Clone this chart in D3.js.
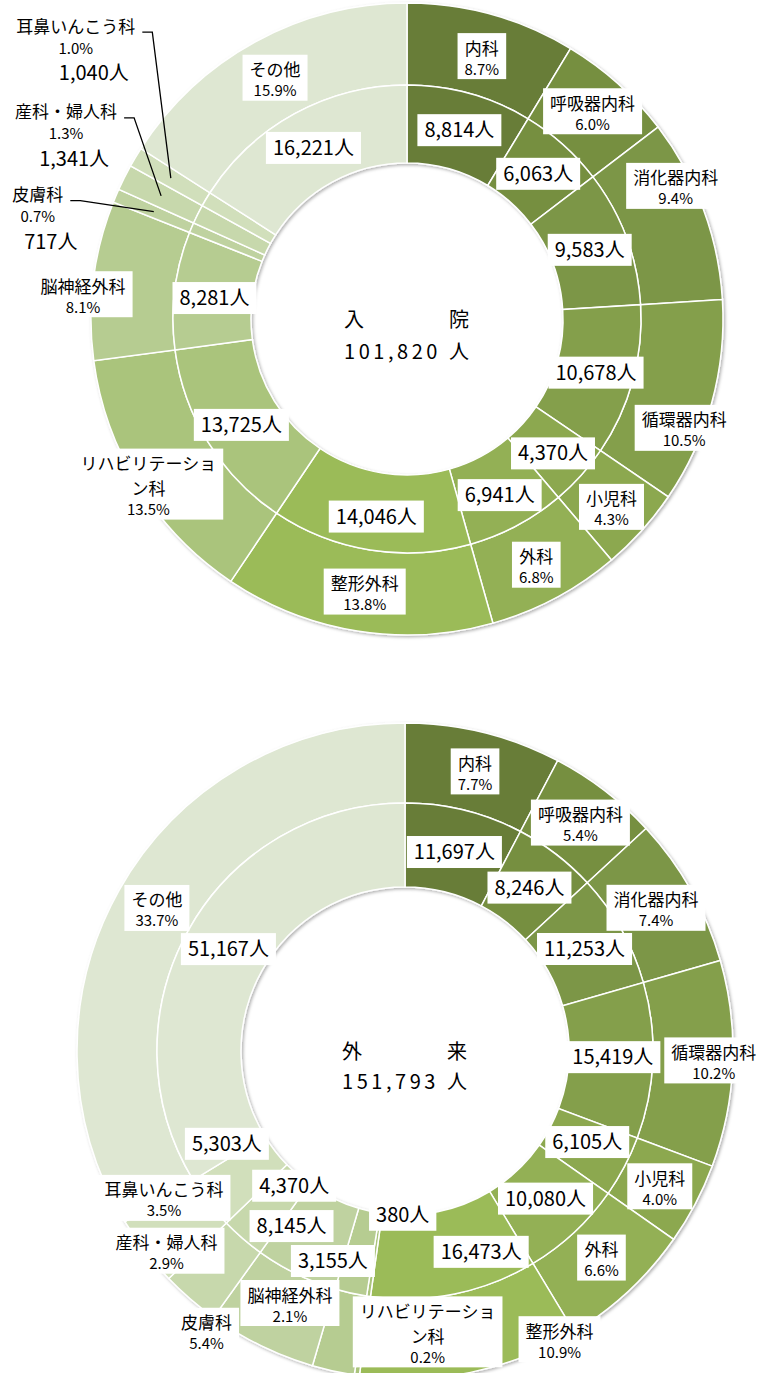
<!DOCTYPE html>
<html><head><meta charset="utf-8">
<script src="https://cdn.jsdelivr.net/npm/d3@7"></script>
<style>
html,body{margin:0;padding:0;background:#fff;}
svg{display:block;}
text{font-family:"Noto Sans CJK JP","Noto Sans",sans-serif;fill:#000;}
</style></head><body>
<svg id="c" width="766" height="1373"></svg>
<script>
// ---- data ----
const departments = ["内科","呼吸器内科","消化器内科","循環器内科","小児科","外科","整形外科","リハビリテーション科","脳神経外科","皮膚科","産科・婦人科","耳鼻いんこう科","その他"];
const inpatientCounts = [8814,6063,9583,10678,4370,6941,14046,13725,8281,717,1341,1040,16221];
const inpatientPct = ["8.7%","6.0%","9.4%","10.5%","4.3%","6.8%","13.8%","13.5%","8.1%","0.7%","1.3%","1.0%","15.9%"];
const outpatientCounts = [11697,8246,11253,15419,6105,10080,16473,380,3155,8145,4370,5303,51167];
const outpatientPct = ["7.7%","5.4%","7.4%","10.2%","4.0%","6.6%","10.9%","0.2%","2.1%","5.4%","2.9%","3.5%","33.7%"];
const inpatientTitle = "入　院";
const outpatientTitle = "外　来";
const unit = "人";

// ---- styles / layout ----
const colors = ["#677D39","#768F41","#7C9646","#849F4B","#8CA850","#93B055","#9BBB59","#AAC47B","#B6CC91","#BFD2A0","#C7D8AC","#D1DFBB","#DEE7D2"];
// label offsets (px) from the arc centroids; null = label shown outside with leader
const inOuterOff = [[1,2],[2,-3],[11,-37],[12,36],[0,4],[0,3],[1,1],[-25,20],[-51,9],null,null,null,[0,0]];
const inInnerOff = [[0,-1],[1,0],[0,-1],[1,2],[1,4],[1,4],[0,5],[0,3],[1,3],null,null,null,[0,0]];
const inOutside = {9:{off:[-116,-17],cdx:13},10:{off:[-95,-84],cdx:8},11:{off:[-95,-152],cdx:18}};
const outOuterOff = [[1,0],[0,0],[0,-2],[21,-2],[0,1],[0,-4],[97,6],[65,-4],[-52,-29],[-72,21],[-50,-18],[-13,-29],[3,-2]];
const outInnerOff = [[0,1],[-1,0],[0,-1],[2,-2],[0,-5],[0,-3],[35,-1],[28,-40],[-27,9],[-23,-10],[24,-21],[-15,-33],[3,-1]];

const svg = d3.select("#c");
const defs = svg.append("defs");
defs.append("filter").attr("id","sh").attr("x","-10%").attr("y","-10%").attr("width","120%").attr("height","120%")
  .append("feDropShadow").attr("dx",1.5).attr("dy",1.5).attr("stdDeviation",1.5)
  .attr("flood-color","#000").attr("flood-opacity",0.3);

const fmt = d3.format(",");
const LINE = 25;

function wrapName(s){ return s.length > 8 ? [s.slice(0,8), s.slice(8)] : [s]; }

function nameLabel(parent, bx, by, lines, pct){
  const lg = parent.append("g");
  const rect = lg.append("rect").attr("fill","#fff");
  const n = lines.length;
  const y0 = by - 8 - (LINE/2)*(n-1);
  const nt = lg.append("text").attr("text-anchor","middle");
  const spans = lines.map((t,k)=> nt.append("tspan").attr("x",bx).attr("y",y0 + k*LINE + 6.5)
    .style("font-size","17px").text(t));
  const py = y0 + (n-1)*LINE + 21;
  spans.push(nt.append("tspan").attr("x",bx).attr("y",py + 5.5).style("font-size","15px").text(pct));
  const w = d3.max(spans, s=>s.node().getComputedTextLength());
  rect.attr("x",bx - w/2 - 7).attr("y",y0 - 15).attr("width",w + 14).attr("height",py + 10 - (y0 - 15));
}

function countLabel(parent, x, y, t){
  const lg = parent.append("g");
  const rect = lg.append("rect").attr("fill","#fff");
  const tx = lg.append("text").attr("x",x).attr("y",y + 7).attr("text-anchor","middle")
    .style("font-size","20px").text(t);
  const w = tx.node().getComputedTextLength();
  rect.attr("x",x - w/2 - 7).attr("y",y - 16).attr("width",w + 14).attr("height",32);
}

function drawChart(cfg){
  const g = svg.append("g").attr("transform",`translate(${cfg.cx},${cfg.cy})`);
  const arcs = d3.pie().sort(null).value(d=>d)(cfg.counts);
  const innerArc = d3.arc().innerRadius(cfg.r0).outerRadius(cfg.r1);
  const outerArc = d3.arc().innerRadius(cfg.r1).outerRadius(cfg.r2);
  const ring = g.append("g").attr("filter","url(#sh)");
  ring.selectAll("path.o").data(arcs).join("path").attr("class","o")
    .attr("d",outerArc).attr("fill",(d,i)=>colors[i]).attr("stroke","#fff").attr("stroke-width",1.5);
  ring.selectAll("path.i").data(arcs).join("path").attr("class","i")
    .attr("d",innerArc).attr("fill",(d,i)=>colors[i]).attr("stroke","#fff").attr("stroke-width",1.5);

  // center text
  const total = d3.sum(cfg.counts);
  g.append("text").attr("x",-63).attr("y",8).attr("textLength",125).attr("lengthAdjust","spacing")
    .style("font-size","20px").text(cfg.title);
  g.append("text").attr("x",-63).attr("y",cfg.numY).attr("textLength",125).attr("lengthAdjust","spacing")
    .style("font-size","20px").text(fmt(total) + " " + unit);

  const lab = g.append("g");
  // inner (count) labels
  arcs.forEach((a,i)=>{
    const off = cfg.innerOff[i];
    if(!off) return;
    const c = innerArc.centroid(a);
    countLabel(lab, c[0] + off[0], c[1] + off[1], fmt(cfg.counts[i]) + unit);
  });
  // outer (name / pct) labels
  arcs.forEach((a,i)=>{
    const off = cfg.outerOff[i];
    const c = outerArc.centroid(a);
    if(off){
      nameLabel(lab, c[0] + off[0], c[1] + off[1], wrapName(departments[i]), cfg.pct[i]);
    } else if(cfg.outside && cfg.outside[i]){
      const o = cfg.outside[i];
      const nx = c[0] + o.off[0], ny = c[1] + o.off[1];
      const t = lab.append("text").attr("text-anchor","middle");
      const nt = t.append("tspan").attr("x",nx).attr("y",ny + 6.5).style("font-size","17px").text(departments[i]);
      t.append("tspan").attr("x",nx).attr("y",ny + 22 + 5.5).style("font-size","15px").text(cfg.pct[i]);
      t.append("tspan").attr("x",nx + o.cdx).attr("y",ny + 47 + 7).style("font-size","20px")
        .text(fmt(cfg.counts[i]) + unit);
      const w = nt.node().getComputedTextLength();
      const sx = nx + w/2 + 7, sy = ny + 6;
      lab.append("path").attr("d",d3.line()([[sx,sy],[sx+10,sy],[c[0],c[1]]]))
        .attr("fill","none").attr("stroke","#000").attr("stroke-width",1.3);
    }
  });
}

drawChart({cx:407, cy:319, r0:156, r1:234, r2:316, counts:inpatientCounts, pct:inpatientPct,
  title:inpatientTitle, numY:40, innerOff:inInnerOff, outerOff:inOuterOff, outside:inOutside});
drawChart({cx:405, cy:1051, r0:164, r1:248, r2:328, counts:outpatientCounts, pct:outpatientPct,
  title:outpatientTitle, numY:38, innerOff:outInnerOff, outerOff:outOuterOff, outside:null});
</script>
</body></html>
